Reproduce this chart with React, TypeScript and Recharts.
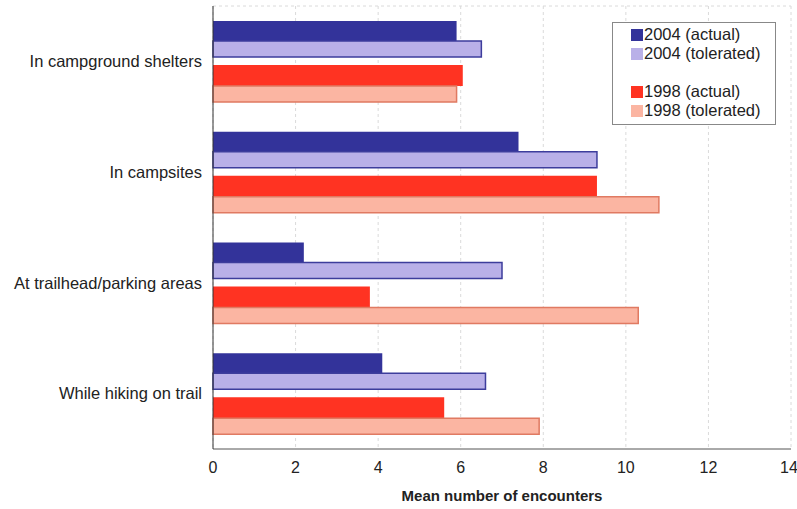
import { BarChart, Bar, XAxis, YAxis, CartesianGrid } from 'recharts';

const categories = [
  'In campground shelters',
  'In campsites',
  'At trailhead/parking areas',
  'While hiking on trail',
];
const actual2004 = [5.9, 7.4, 2.2, 4.1];
const tolerated2004 = [6.5, 9.3, 7.0, 6.6];
const actual1998 = [6.05, 9.3, 3.8, 5.6];
const tolerated1998 = [5.9, 10.8, 10.3, 7.9];
const xTicks = [0, 2, 4, 6, 8, 10, 12, 14];

const data = categories.map((name, i) => ({
  name,
  a2004: actual2004[i],
  t2004: tolerated2004[i],
  gap: 0,
  a1998: actual1998[i],
  t1998: tolerated1998[i],
}));

const legendItems = [
  { label: '2004 (actual)', color: '#33339a' },
  { label: '2004 (tolerated)', color: '#b9b0e8' },
  null,
  { label: '1998 (actual)', color: '#ff3322' },
  { label: '1998 (tolerated)', color: '#fbb5a2' },
];

// legend sits over the plot, so keep it out of the chart's layout
const ChartLegend = () => (
  <div
    style={{
      position: 'absolute',
      left: 612,
      top: 22,
      width: 164,
      height: 103,
      boxSizing: 'border-box',
      border: '1px solid #888',
      background: '#fff',
      padding: '2px 0 0 18px',
      fontSize: 16.5,
      color: '#222',
      lineHeight: '19px',
    }}
  >
    {legendItems.map((item, i) =>
      item ? (
        <div key={i} style={{ display: 'flex', alignItems: 'center' }}>
          <span
            style={{
              display: 'inline-block',
              width: 12,
              height: 12,
              background: item.color,
              marginRight: 1,
            }}
          />
          {item.label}
        </div>
      ) : (
        <div key={i} style={{ height: 19 }} />
      )
    )}
  </div>
);

export default function App() {
  return (
    <div style={{ position: 'absolute', left: 0, top: 0, fontFamily: '"Liberation Sans", Arial, sans-serif' }}>
      <BarChart
        width={797}
        height={509}
        data={data}
        layout="vertical"
        barGap={0}
        margin={{ top: 6, right: 6, bottom: 0, left: 0 }}
      >
        <CartesianGrid
          stroke="#dadada"
          strokeDasharray="3 3"
          horizontalPoints={[6]}
        />
        <XAxis
          type="number"
          domain={[0, 14]}
          ticks={xTicks}
          tickLine={false}
          axisLine={{ stroke: '#555' }}
          tick={{ fill: '#222', fontSize: 16 }}
          tickMargin={7}
          height={60}
          label={{
            value: 'Mean number of encounters',
            position: 'insideBottom',
            offset: 8,
            fill: '#222',
            fontSize: 15,
            fontWeight: 'bold',
          }}
        />
        <YAxis
          type="category"
          dataKey="name"
          width={213}
          tickLine={false}
          axisLine={{ stroke: '#333' }}
          tick={{ fill: '#222', fontSize: 16.5 }}
          tickMargin={5}
        />
        <Bar dataKey="a2004" name="2004 (actual)" fill="#33339a" barSize={20} isAnimationActive={false} />
        <Bar dataKey="t2004" name="2004 (tolerated)" fill="#b9b0e8" stroke="#3d3d9c" strokeWidth={1.5} barSize={16} isAnimationActive={false} />
        <Bar dataKey="gap" fill="none" barSize={8} legendType="none" isAnimationActive={false} />
        <Bar dataKey="a1998" name="1998 (actual)" fill="#ff3322" barSize={21} isAnimationActive={false} />
        <Bar dataKey="t1998" name="1998 (tolerated)" fill="#fbb5a2" stroke="#e07a62" strokeWidth={1.5} barSize={16} isAnimationActive={false} />
      </BarChart>
      <ChartLegend />
    </div>
  );
}
